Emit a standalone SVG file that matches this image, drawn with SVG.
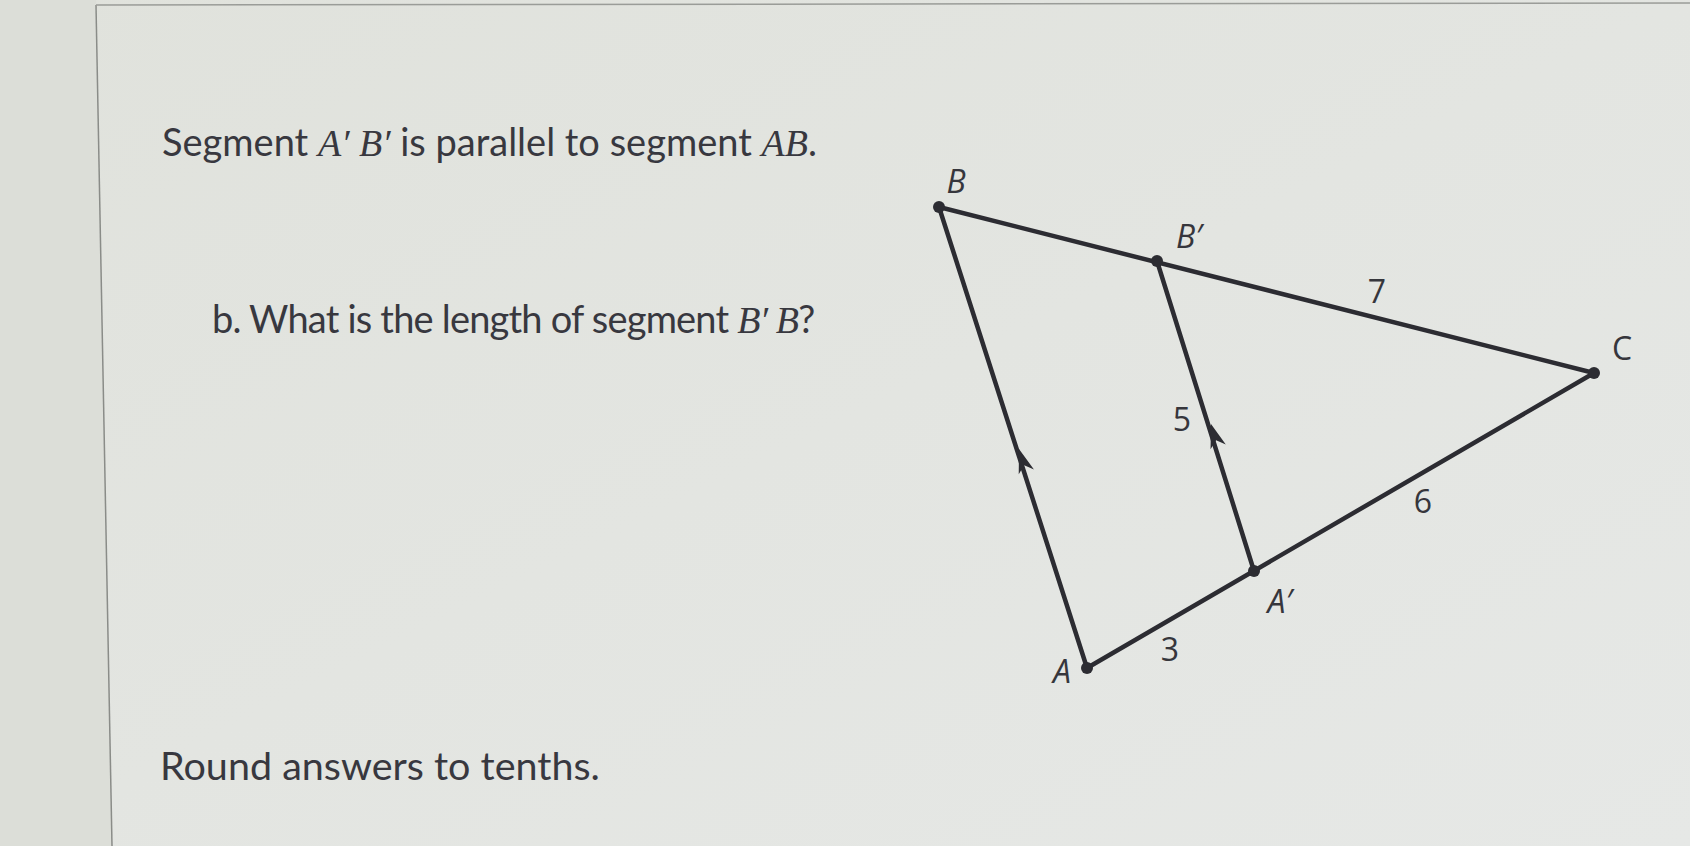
<svg xmlns="http://www.w3.org/2000/svg" width="1690" height="846" viewBox="0 0 1690 846">
<style>
.body{font-family:Lato,"Open Sans","Liberation Sans",sans-serif;font-size:38px;fill:#38383f}
.math{font-family:"Liberation Serif",serif;font-style:italic;fill:#38383f}
.lbl{font-family:"Open Sans","Liberation Sans",sans-serif;font-size:32px;fill:#36363c;text-anchor:middle}
.it{font-style:italic}
.seg{stroke:#2c2c32;stroke-width:4.5;stroke-linecap:round;fill:none}
.pt{fill:#2c2c32}
</style>
<defs>
<linearGradient id="bg" x1="0" y1="0" x2="1" y2="1">
<stop offset="0" stop-color="#e0e2dc"/>
<stop offset="1" stop-color="#e6e8e6"/>
</linearGradient>
<path id="ah" d="M0,0 L-24,-8 L-17,0 L-24,8 Z" fill="#2c2c32"/>
</defs>
<rect x="0" y="0" width="1690" height="846" fill="url(#bg)"/>
<polygon points="0,0 96,0 112,846 0,846" fill="#dcded8"/>
<line x1="96" y1="5" x2="112" y2="846" stroke="#8a8c88" stroke-width="1.5"/>
<line x1="96" y1="5" x2="1690" y2="3" stroke="#9a9c98" stroke-width="1.5"/>

<text class="body" x="162" y="156">Segment <tspan class="math">A′ B′</tspan> is parallel to segment <tspan class="math">AB</tspan>.</text>
<text class="body" x="212" y="333" style="letter-spacing:-0.8px">b. What is the length of segment <tspan class="math">B′ B</tspan>?</text>
<text class="body" x="160" y="780" style="font-size:39.5px">Round answers to tenths.</text>

<g id="connectors">
<line class="seg" x1="939" y1="207" x2="1594" y2="373"/>
<line class="seg" x1="1087" y1="668" x2="1594" y2="373"/>
<line class="seg" x1="1087" y1="668" x2="939" y2="207"/>
<line class="seg" x1="1254" y1="571" x2="1157" y2="261"/>
<use href="#ah" transform="translate(1019,449) rotate(-107.8)"/>
<use href="#ah" transform="translate(1211,424) rotate(-107.4)"/>
</g>

<g id="node-B"><circle class="pt" cx="939" cy="207" r="6"/><text class="lbl it" x="956" y="193">B</text></g>
<g id="node-Bp"><circle class="pt" cx="1157" cy="261" r="6"/><text class="lbl it" x="1189" y="248">B′</text></g>
<g id="node-C"><circle class="pt" cx="1594" cy="373" r="6"/><text class="lbl" x="1622" y="360">C</text></g>
<g id="node-Ap"><circle class="pt" cx="1254" cy="571" r="6"/><text class="lbl it" x="1280" y="613">A′</text></g>
<g id="node-A"><circle class="pt" cx="1087" cy="668" r="6"/><text class="lbl it" x="1062" y="683">A</text></g>

<g id="lengths">
<text class="lbl" x="1377" y="303">7</text>
<text class="lbl" x="1182" y="431">5</text>
<text class="lbl" x="1423" y="513">6</text>
<text class="lbl" x="1170" y="661">3</text>
</g>
</svg>
